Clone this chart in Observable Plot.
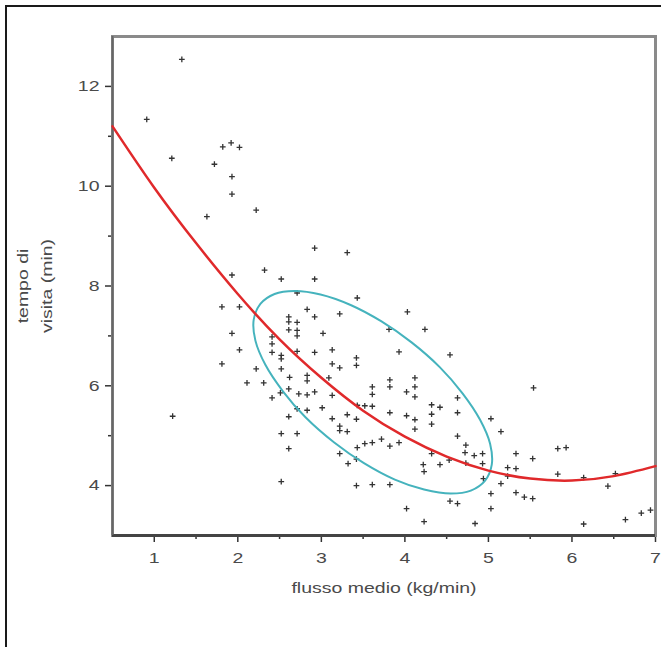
<!DOCTYPE html>
<html>
<head>
<meta charset="utf-8">
<script src="https://cdn.jsdelivr.net/npm/d3@7"></script>
<script src="https://cdn.jsdelivr.net/npm/@observablehq/plot@0.6"></script>
<style>
  html, body { margin: 0; padding: 0; background: #fff; overflow: hidden; }
  #wrap { position: relative; width: 661px; height: 647px; overflow: hidden; }
  #outer { position: absolute; left: 5px; top: 5px; width: 720px; height: 720px; border-left: 2px solid #1a1a1a; border-top: 2px solid #1a1a1a; box-sizing: border-box; }
  #chart { position: absolute; left: 0; top: 0; }
</style>
</head>
<body>
<div id="wrap"><div id="outer"></div><div id="chart"></div></div>
<script>
// scatter data: flusso medio (kg/min) vs tempo di visita (min)
const flusso = [1.33,0.91,1.21,1.72,1.82,1.92,2.02,1.93,1.93,2.22,1.63,2.92,3.31,2.32,1.93,2.52,2.92,2.71,3.43,1.81,
  2.02,2.83,3.22,2.92,2.61,2.61,2.71,2.61,2.71,2.71,3.02,1.93,2.02,2.41,2.41,2.41,2.52,2.52,2.71,2.92,
  3.13,3.42,3.42,3.22,3.13,1.81,2.22,2.52,2.62,2.83,2.83,3.09,2.11,2.31,2.61,2.73,2.83,2.92,2.41,2.51,
  4.03,3.81,4.24,3.93,4.54,3.82,3.82,4.12,4.12,3.61,3.61,3.13,4.02,4.12,3.43,3.52,3.61,3.01,4.32,4.42,
  3.82,4.02,4.12,4.12,4.32,4.63,5.03,5.15,3.13,3.31,3.42,3.22,3.22,3.31,4.32,4.63,4.73,3.43,3.52,3.61,
  3.72,3.82,3.93,2.71,2.83,2.61,2.52,2.71,2.61,2.52,3.22,3.32,3.42,3.42,3.61,3.82,4.02,4.23,4.32,4.22,
  4.23,4.42,4.53,4.72,4.83,4.93,4.93,4.73,4.54,4.63,4.84,4.94,5.03,5.03,4.63,5.15,5.33,5.23,5.33,5.23,
  5.33,5.43,5.53,5.53,5.54,5.83,5.93,5.83,6.14,6.43,6.52,6.14,6.64,6.83,6.94,1.22];
const tempo = [12.54,11.34,10.56,10.44,10.79,10.87,10.78,10.19,9.84,9.52,9.39,8.76,8.67,8.32,8.22,8.14,8.14,7.86,7.76,7.58,
  7.58,7.53,7.44,7.38,7.38,7.28,7.27,7.12,7.11,7.00,7.05,7.05,6.72,6.98,6.84,6.67,6.61,6.54,6.69,6.67,
  6.72,6.56,6.41,6.36,6.44,6.44,6.34,6.34,6.17,6.21,6.10,6.16,6.06,6.06,5.94,5.84,5.82,5.88,5.76,5.86,
  7.48,7.13,7.13,6.68,6.62,6.12,5.98,6.16,5.98,5.98,5.83,5.81,5.88,5.78,5.61,5.60,5.59,5.56,5.62,5.57,
  5.46,5.40,5.32,5.13,5.43,5.46,5.34,5.08,5.34,5.42,5.33,5.19,5.10,5.08,5.23,4.99,4.81,4.76,4.84,4.86,
  4.93,4.79,4.86,5.54,5.51,5.38,5.04,5.04,4.74,4.08,4.64,4.44,4.53,4.00,4.02,4.02,3.54,3.28,4.64,4.42,
  4.28,4.42,4.51,4.66,4.60,4.64,4.44,4.45,3.69,3.64,3.24,4.14,3.84,3.54,5.76,4.04,4.64,4.36,4.34,4.19,
  3.86,3.77,3.74,4.54,5.96,4.74,4.76,4.23,4.16,3.99,4.24,3.23,3.32,3.45,3.51,5.39];

// red fitted curve
const fitX = [0.5,1,1.5,2,2.5,3,3.5,4,4.5,5,5.5,6,6.5,7];
const fitY = [11.2,9.97,8.86,7.84,6.93,6.16,5.50,4.98,4.58,4.30,4.14,4.10,4.19,4.39];

// cyan ellipse outline
const ellX = [4.96,4.79,4.55,4.23,3.88,3.51,3.15,2.81,2.54,2.33,2.21,2.19,2.27,2.44,2.68,2.99,3.35,3.72,4.08,4.42,4.69,4.90,5.02,5.04];
const ellY = [4.10,3.90,3.84,3.92,4.12,4.45,4.87,5.37,5.89,6.42,6.91,7.32,7.64,7.84,7.90,7.83,7.62,7.29,6.87,6.37,5.85,5.32,4.84,4.42];

const xTicks = [1,2,3,4,5,6,7];
const xMinor = [1.5,2.5,3.5,4.5,5.5,6.5];
const yTicks = [4,6,8,10,12];
const yMinor = [5,7,9,11];
const xLabel = "flusso medio (kg/min)";
const yLabel = "tempo di\nvisita (min)";

const points = flusso.map((x, i) => ({x, y: tempo[i]}));
const fit = fitX.map((x, i) => ({x, y: fitY[i]}));
const ell = ellX.map((x, i) => ({x, y: ellY[i]}));

const fmt = d => String(d);
const textColor = "#4a4a4a";
const chart = Plot.plot({
  width: 661, height: 647,
  marginLeft: 112, marginRight: 6, marginTop: 36, marginBottom: 112,
  x: {domain: [0.5, 7]},
  y: {domain: [3, 13]},
  style: {fontFamily: "'Liberation Sans', Arial, sans-serif", fontSize: "15px", color: textColor, background: "transparent"},
  marks: [
    Plot.axisX({ticks: xTicks, tickFormat: fmt, tickSize: 7, tickPadding: 10, label: null, stroke: "#333", fill: textColor, fontSize: 15, strokeWidth: 1.5}),
    Plot.axisX({ticks: xMinor, tickSize: 4, tickFormat: () => "", label: null, stroke: "#333", strokeWidth: 1.5}),
    Plot.axisY({ticks: yTicks, tickFormat: fmt, tickSize: 7, tickPadding: 6, label: null, stroke: "#333", fill: textColor, fontSize: 15, strokeWidth: 1.5}),
    Plot.axisY({ticks: yMinor, tickSize: 4, tickFormat: () => "", label: null, stroke: "#333", strokeWidth: 1.5}),
    Plot.frame({stroke: "#8a8a8a", strokeWidth: 3}),
    Plot.ruleY([3], {stroke: "#444", strokeWidth: 3}),
    Plot.ruleX([0.5], {stroke: "#666", strokeWidth: 2}),
    Plot.dot(points, {x: "x", y: "y", symbol: "plus", r: 2, stroke: "#333", strokeWidth: 1.3}),
    Plot.line(ell, {x: "x", y: "y", curve: "catmull-rom-closed", stroke: "#45b3bd", strokeWidth: 2}),
    Plot.line(fit, {x: "x", y: "y", curve: "natural", stroke: "#e0292b", strokeWidth: 2.5}),
    Plot.text([xLabel], {text: d => d, frameAnchor: "bottom", dy: 57, fill: textColor, fontSize: 15}),
    Plot.text([yLabel], {text: d => d, frameAnchor: "left", textAnchor: "middle", dx: -80, rotate: -90, lineHeight: 1.6, fill: textColor, fontSize: 15})
  ]
});
// the reference's lettering is drawn wide: stretch each text along its reading direction
chart.querySelectorAll("text").forEach(t => {
  let tr = t.getAttribute("transform");
  if (!tr) {
    const x = t.getAttribute("x") || 0;
    if (t.hasAttribute("x")) { t.removeAttribute("x"); }
    tr = `translate(${x},0)`;
  }
  t.setAttribute("transform", tr + " scale(1.3,1)");
});
document.getElementById("chart").appendChild(chart);
</script>
</body>
</html>
